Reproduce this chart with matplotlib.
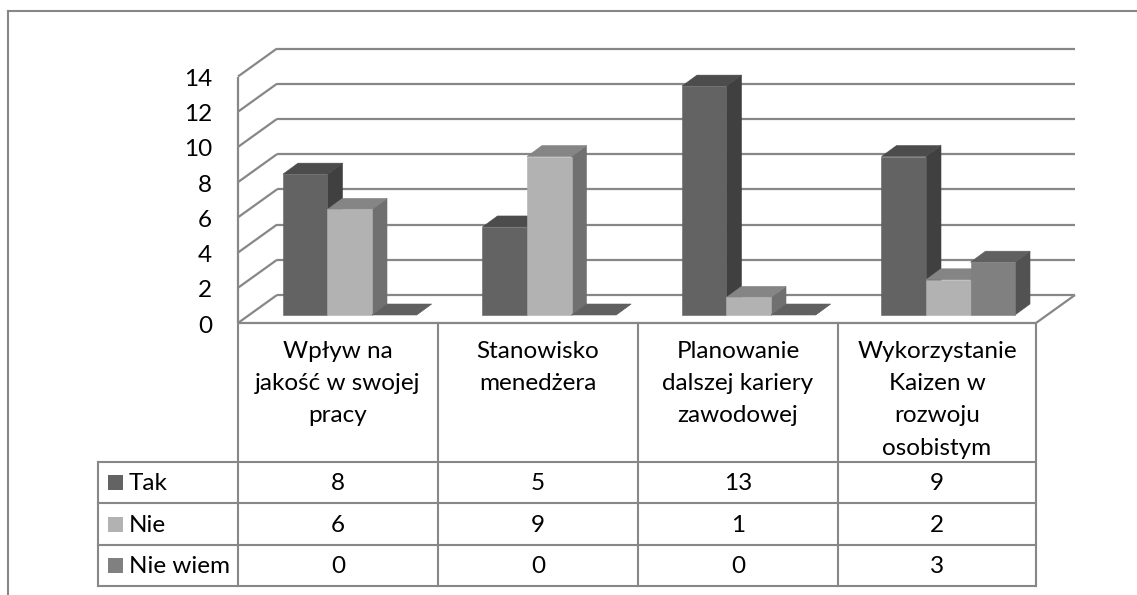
import matplotlib
matplotlib.use("Agg")
import matplotlib.pyplot as plt
from matplotlib.patches import Polygon, Rectangle
from matplotlib.transforms import Affine2D

categories = ["Wpływ na\njakość w swojej\npracy", "Stanowisko\nmenedżera",
              "Planowanie\ndalszej kariery\nzawodowej", "Wykorzystanie\nKaizen w\nrozwoju\nosobistym"]
series_names = ["Tak", "Nie", "Nie wiem"]
tak = [8, 5, 13, 9]
nie = [6, 9, 1, 2]
nie_wiem = [0, 0, 0, 3]
y_ticks = [0, 2, 4, 6, 8, 10, 12, 14]

front_colors = ["#636363", "#b2b2b2", "#808080"]
top_colors = ["#4c4c4c", "#858585", "#606060"]
side_colors = ["#404040", "#707070", "#525252"]
line_color = "#878787"
font = "Lato"
fs = 17.5

W, H = 1137, 595
plt.rcParams["font.family"] = font
fig = plt.figure(figsize=(W / 100, H / 100), dpi=100, facecolor="white")

# Overlay in pixel coordinates for the outer frame and the data table rules
page = fig.add_axes([0, 0, 1, 1])
page.set_xlim(0, W)
page.set_ylim(H, 0)
page.axis("off")

# Plot axes: its rectangle is the front plane of the 3-D box
ax = fig.add_axes([238 / W, (H - 323) / H, (1036 - 238) / W, (323 - 76.5) / H])
ax.set_xlim(0, 4)
ax.set_ylim(0, 14)
ax.axis("off")

back = ax.transData + Affine2D().translate(39, 28)
bar_front = ax.transData + Affine2D().translate(12, 8)
bar_back = ax.transData + Affine2D().translate(27, 19)

kw = dict(color=line_color, lw=1.6, clip_on=False, solid_capstyle="butt")
for t in y_ticks:
    ax.plot([0, 4], [t, t], transform=back, zorder=1, **kw)
    # side-wall diagonal, from front edge to back wall
    p0 = ax.transData.transform((0, t))
    p1 = back.transform((0, t))
    ax.plot([p0[0], p1[0]], [p0[1], p1[1]], transform=None, zorder=1, **kw)
    ax.text(-0.13, t - 0.06, str(t), ha="right", va="center_baseline", fontsize=fs, color="black")
ax.plot([0, 0], [0, 14], zorder=1, **kw)
ax.plot([0, 4], [0, 0], zorder=1, **kw)
p0 = ax.transData.transform((4, 0))
p1 = back.transform((4, 0))
ax.plot([p0[0], p1[0]], [p0[1], p1[1]], transform=None, zorder=1, **kw)


def to(tr, x, y):
    return tuple(tr.transform((x, y)))


# Bars, drawn left to right so each one covers its neighbour's side face
w = 0.2231
for i in range(len(categories)):
    for s, vals in enumerate([tak, nie, nie_wiem]):
        v = vals[i]
        x0 = i + 0.5 + (s - 1.5) * w
        x1 = x0 + w
        pk = dict(transform=None, clip_on=False, zorder=3 + i * 3 + s, lw=0.4)
        side = [to(bar_front, x1, 0), to(bar_back, x1, 0), to(bar_back, x1, v), to(bar_front, x1, v)]
        top = [to(bar_front, x0, v), to(bar_front, x1, v), to(bar_back, x1, v), to(bar_back, x0, v)]
        front = [to(bar_front, x0, 0), to(bar_front, x1, 0), to(bar_front, x1, v), to(bar_front, x0, v)]
        ax.add_patch(Polygon(side, fc=side_colors[s], ec=side_colors[s], **pk))
        ax.add_patch(Polygon(top, fc=top_colors[s], ec=top_colors[s], **pk))
        if v > 0:
            ax.add_patch(Polygon(front, fc=front_colors[s], ec=front_colors[s], **pk))

# Outer frame, open at the right and bottom
page.plot([8, 8], [H, 11], color=line_color, lw=1.5)
page.plot([8, W], [11, 11], color=line_color, lw=1.5)

# Data table
col_x = [238, 438, 638, 838, 1036]
row_y = [462, 503, 545, 586]
tl = dict(color=line_color, lw=1.5, solid_capstyle="projecting")
for x in col_x:
    page.plot([x, x], [323, 586], **tl)
page.plot([98, 98], [462, 586], **tl)
for y in row_y:
    page.plot([98, 1036], [y, y], **tl)

for i, label in enumerate(categories):
    cx = (col_x[i] + col_x[i + 1]) / 2
    page.text(cx, 340.5, label, ha="center", va="top", fontsize=fs,
              linespacing=1.67, color="black")

for r, (name, vals) in enumerate(zip(series_names, [tak, nie, nie_wiem])):
    cy = (row_y[r] + row_y[r + 1]) / 2
    page.add_patch(Rectangle((108, cy - 7.5), 15, 15, fc=front_colors[r], ec="none"))
    page.text(129, cy - 1, name, ha="left", va="center_baseline", fontsize=fs, color="black")
    for i, v in enumerate(vals):
        page.text((col_x[i] + col_x[i + 1]) / 2, cy - 1, str(v), ha="center", va="center_baseline",
                  fontsize=fs, color="black")

fig.savefig("out.png", dpi=100, facecolor="white")
